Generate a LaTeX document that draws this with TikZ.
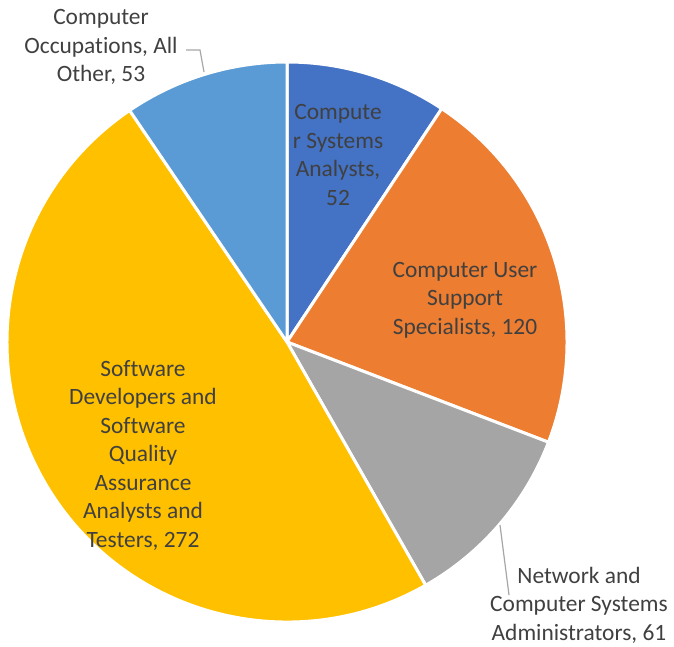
\documentclass[tikz,border=0pt]{standalone}
\usepackage{fontspec}
\setmainfont[RawFeature={-liga;-clig}]{Carlito}
\definecolor{sBlue}{HTML}{4472C4}
\definecolor{sOrange}{HTML}{ED7D31}
\definecolor{sGray}{HTML}{A5A5A5}
\definecolor{sGold}{HTML}{FFC000}
\definecolor{sLight}{HTML}{5B9BD5}
\definecolor{txt}{HTML}{404040}
\definecolor{lead}{HTML}{A6A6A6}
\tikzset{
  slice/.style={draw=white, line width=3pt, line join=round},
  lbl/.style={align=center, inner sep=0pt, text=txt, font=\fontsize{23.4}{28.5}\selectfont},
  leader/.style={draw=lead, line width=1.2pt}
}
\begin{document}
\begin{tikzpicture}[x=1pt,y=-1pt]
\useasboundingbox (0,0) rectangle (674,647);
\coordinate (c) at (287,342);
\def\R{280pt}
\fill[sBlue,slice] (c) -- ++(90:\R) arc[start angle=90,end angle=56.45,radius=\R] -- cycle;
\fill[sOrange,slice] (c) -- ++(56.45:\R) arc[start angle=56.45,end angle=-20.97,radius=\R] -- cycle;
\fill[sGray,slice] (c) -- ++(-20.97:\R) arc[start angle=-20.97,end angle=-60.32,radius=\R] -- cycle;
\fill[sGold,slice] (c) -- ++(-60.32:\R) arc[start angle=-60.32,end angle=-235.8,radius=\R] -- cycle;
\fill[sLight,slice] (c) -- ++(124.2:\R) arc[start angle=124.2,end angle=90,radius=\R] -- cycle;

\node[lbl] (analysts) at (338,155) {Compute\\r Systems\\Analysts,\\52};
\node[lbl] (support) at (465,300) {Computer User\\Support\\Specialists, 120};
\node[lbl] (network) at (579,605) {Network and\\Computer Systems\\Administrators, 61};
\node[lbl] (software) at (143,455) {Software\\Developers and\\Software\\Quality\\Assurance\\Analysts and\\Testers, 272};
\node[lbl] (other) at (101,47) {Computer\\Occupations, All\\Other, 53};

\coordinate (o1) at (204,72);
\coordinate (o2) at (200,50);
\coordinate (o3) at (186,50);
\draw[leader] (o1) -- (o2) -- (o3);
\coordinate (n1) at (500,525);
\coordinate (n2) at (509,595);
\draw[leader] (n1) -- (n2);
\end{tikzpicture}
\end{document}
